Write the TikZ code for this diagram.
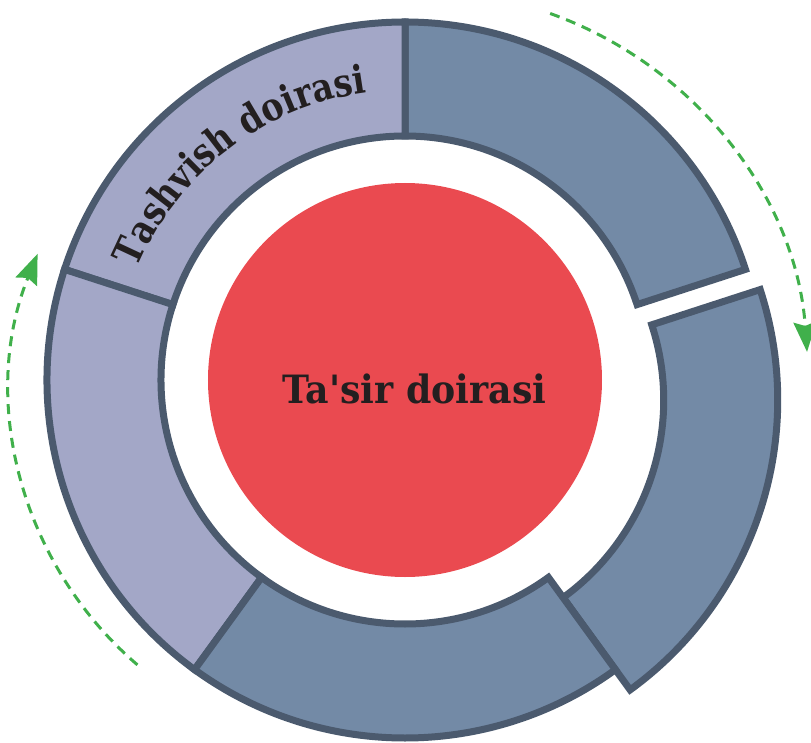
\documentclass[tikz,border=0pt]{standalone}
\usepackage{fontspec}
\newfontfamily\labelfont{DejaVu Serif}[FakeStretch=0.93,Ligatures=TeXOff]
\newfontfamily\arcfont{DejaVu Serif}[FakeStretch=0.85,Ligatures=TeXOff]
\usetikzlibrary{arrows.meta,decorations.text}
\definecolor{ringline}{RGB}{75,90,110}
\definecolor{lilac}{RGB}{163,167,199}
\definecolor{slateblue}{RGB}{115,138,166}
\definecolor{corered}{RGB}{234,74,80}
\definecolor{arrowgreen}{RGB}{64,176,75}
\definecolor{inkdark}{RGB}{35,31,32}
\tikzset{
  seg/.style={draw=ringline, line width=7pt, line join=miter},
  flow/.style={draw=arrowgreen, line width=3pt, dash pattern=on 10pt off 7pt,
    -{Stealth[length=30pt,width=23pt,inset=4pt]}},
  labeltext/.style={text=inkdark, font=\labelfont\bfseries\fontsize{39}{44}\selectfont},
}
\newcommand\ringseg[4]{%
  \draw[seg, fill=#3, shift={#4}] (#1:244pt) -- (#1:358pt)
    arc[start angle=#1, end angle=#2, radius=358pt] -- (#2:244pt)
    arc[start angle=#2, end angle=#1, radius=244pt] -- cycle;}
\begin{document}
\begin{tikzpicture}
\useasboundingbox (-405pt,-362pt) rectangle (406pt,380pt);
% ring segments
\ringseg{18}{90}{slateblue}{(0pt,0pt)}
\ringseg{90}{162}{lilac}{(0pt,0pt)}
\ringseg{162}{234}{lilac}{(0pt,0pt)}
\ringseg{-54}{18}{slateblue}{(-54:25pt)}
\ringseg{234}{306}{slateblue}{(0pt,0pt)}
% core
\node[circle, fill=corered, minimum size=394pt, inner sep=0pt] (core) at (0pt,0pt) {};
\node[labeltext, anchor=base] (coretext) at (9.5pt,-23pt) {Ta'sir doirasi};
% curved label
\path[decorate, decoration={text along path, text align=center,
  text={|\arcfont\bfseries\fontsize{39}{44}\selectfont\color{inkdark}|Tashvish doirasi}}]
  (187:290pt) arc[start angle=187, end angle=68, radius=290pt];
% arrows
\coordinate (rs) at ([shift={(15pt,1pt)}]70.4:388pt);
\coordinate (ls) at ([shift={(-32pt,-10pt)}]229.4:362pt);
\draw[flow] (rs) arc[start angle=70.4, end angle=4, radius=388pt];
\draw[flow] (ls) arc[start angle=229.4, end angle=157.9, radius=362pt];
\end{tikzpicture}
\end{document}
